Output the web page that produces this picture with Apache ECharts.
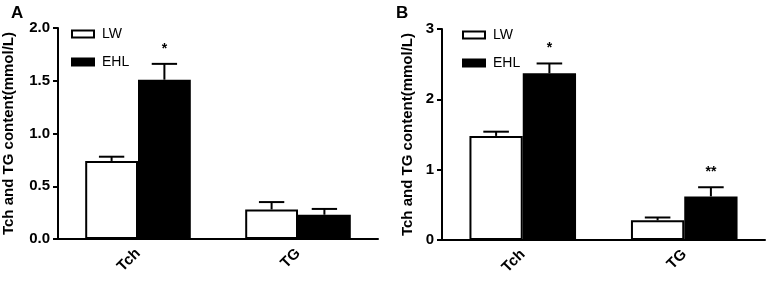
<!DOCTYPE html>
<html>
<head>
<meta charset="utf-8">
<script src="https://cdn.jsdelivr.net/npm/echarts@6/dist/echarts.min.js"></script>
<style>
  html, body { margin: 0; padding: 0; background: #fff; }
  #chart { width: 770px; height: 288px; }
</style>
</head>
<body>
<div id="chart"></div>
<script>
const categories = ['Tch', 'TG']

// panel A
const aLW = [0.74, 0.28]
const aLWErr = [0.04, 0.07]
const aEHL = [1.51, 0.23]
const aEHLErr = [0.15, 0.055]
const aStars = ['*', '']

// panel B
const bLW = [1.48, 0.28]
const bLWErr = [0.06, 0.04]
const bEHL = [2.37, 0.62]
const bEHLErr = [0.14, 0.13]
const bStars = ['*', '**']

const FONT = 'Liberation Sans, Arial, sans-serif'
const GAP = '34%'

// error bar + star drawn on top of a bar; side -1 = LW, 1 = EHL
const errSeries = (axisIdx, vals, errs, stars, side) => ({
  type: 'custom',
  xAxisIndex: axisIdx,
  yAxisIndex: axisIdx,
  z: 5,
  data: vals.map((v, i) => [i, v, v + errs[i], stars[i]]),
  renderItem: (params, api) => {
    const band = api.size([1, 0])[0]
    const bw = band * 0.66 / 2
    const c = api.coord([api.value(0), api.value(1)])
    const top = api.coord([api.value(0), api.value(2)])
    const x = c[0] + side * bw / 2
    const half = bw * 0.24
    const children = [
      { type: 'line', shape: { x1: x, y1: c[1], x2: x, y2: top[1] }, style: { stroke: '#000', lineWidth: 2 } },
      { type: 'line', shape: { x1: x - half, y1: top[1], x2: x + half, y2: top[1] }, style: { stroke: '#000', lineWidth: 2 } }
    ]
    const s = stars[params.dataIndex]
    if (s) {
      children.push({
        type: 'text',
        style: { text: s, x: x, y: top[1] - 8, align: 'center', verticalAlign: 'bottom', font: 'bold 14px ' + FONT, fill: '#000' }
      })
    }
    return { type: 'group', children }
  }
})

const barSeries = (axisIdx, name, vals, white) => ({
  name,
  type: 'bar',
  xAxisIndex: axisIdx,
  yAxisIndex: axisIdx,
  data: vals,
  barGap: '0%',
  barCategoryGap: GAP,
  itemStyle: white
    ? { color: '#fff', borderColor: '#000', borderWidth: 2 }
    : { color: '#000', borderColor: '#000', borderWidth: 2 }
})

const xAxisOf = gridIndex => ({
  type: 'category',
  gridIndex,
  data: categories,
  axisLine: { lineStyle: { color: '#000', width: 2 } },
  axisTick: { alignWithLabel: true, length: 5, lineStyle: { color: '#000', width: 2 } },
  axisLabel: { rotate: 45, margin: 12, color: '#000', fontWeight: 'bold', fontSize: 15, fontFamily: FONT }
})

const yAxisOf = (gridIndex, max, interval, digits) => ({
  type: 'value',
  gridIndex,
  min: 0,
  max,
  interval,
  name: 'Tch and TG content(mmol/L)',
  nameLocation: 'middle',
  nameGap: digits ? 42 : 27,
  nameTextStyle: { color: '#000', fontWeight: 'bold', fontSize: 15, fontFamily: FONT },
  splitLine: { show: false },
  axisLine: { show: true, lineStyle: { color: '#000', width: 2 } },
  axisTick: { show: true, length: 5, lineStyle: { color: '#000', width: 2 } },
  axisLabel: {
    margin: 8, color: '#000', fontWeight: 'bold', fontSize: 15, fontFamily: FONT,
    formatter: v => v.toFixed(digits)
  }
})

const legendOf = (left, top, names) => ({
  data: names,
  orient: 'vertical',
  left,
  top,
  itemWidth: 22,
  itemHeight: 7,
  itemGap: 14,
  icon: 'rect',
  textStyle: { color: '#000', fontSize: 14, fontFamily: FONT, padding: [0, 0, 0, 3] }
})

const chart = echarts.init(document.getElementById('chart'))

chart.setOption({
  animation: false,
  backgroundColor: '#fff',
  title: [
    { text: 'A', left: 6, top: 0, textStyle: { fontSize: 17, fontWeight: 'bold', color: '#000', fontFamily: FONT } },
    { text: 'B', left: 391, top: 0, textStyle: { fontSize: 17, fontWeight: 'bold', color: '#000', fontFamily: FONT } }
  ],
  legend: [
    legendOf(66, 22, ['LW', 'EHL']),
    legendOf(457, 23, ['LW ', 'EHL '])
  ],
  grid: [
    { left: 57, top: 28, width: 321, height: 211 },
    { left: 442, top: 29, width: 323, height: 211 }
  ],
  xAxis: [xAxisOf(0), xAxisOf(1)],
  yAxis: [yAxisOf(0, 2, 0.5, 1), yAxisOf(1, 3, 1, 0)],
  series: [
    barSeries(0, 'LW', aLW, true),
    barSeries(0, 'EHL', aEHL, false),
    errSeries(0, aLW, aLWErr, ['', ''], -1),
    errSeries(0, aEHL, aEHLErr, aStars, 1),
    barSeries(1, 'LW ', bLW, true),
    barSeries(1, 'EHL ', bEHL, false),
    errSeries(1, bLW, bLWErr, ['', ''], -1),
    errSeries(1, bEHL, bEHLErr, bStars, 1)
  ]
})
</script>
</body>
</html>
